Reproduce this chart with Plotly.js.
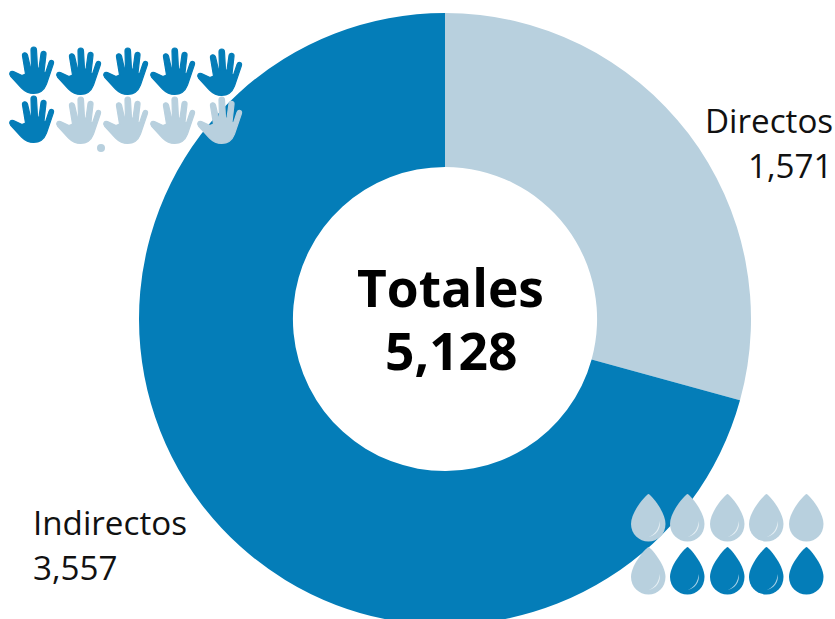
<!DOCTYPE html>
<html><head><meta charset="utf-8">
<script src="https://cdn.plot.ly/plotly-3.0.1.min.js"></script>
<style>html,body{margin:0;padding:0;overflow:hidden;background:#fff;width:835px;height:619px}</style>
</head><body><div id="c" style="width:835px;height:660px"></div>
<script>
const categories = ['Directos','Indirectos'];
// Figures printed on the reference.
const printedValues = ['1,571','3,557'];
const printedTotal = '5,128';
// Arc shares (boundary at about 105.4 deg). The
// reference's arc does not match its printed figures, which would give 110.3 deg.
const drawnShares = [29.28,70.72];
const colors = ['#b8d0de','#047db8'];
const DARK='#047db8', LIGHT='#b8d0de';
const W=835,H=660;
const cx=445,cy=319,R=306;
// icon outlines in local px, origin at top-left of the icon, y down
const handPts = "M13.5 9 C13 5.5 17.5 4.5 18.5 8 L21.5 21 L22.5 21 L22 3 C22 -1 27.5 -1 27.5 3 L28.5 21 L30 21 L32 6.5 C32.5 3 37.5 4 37 7.5 L35 25 L36.5 26 L40 15.5 C41.5 12 45.5 13.5 44.3 17 L37.5 37 C35 43.5 30 46.5 24.5 46.5 C20 46.5 16 44.5 12.5 41 L1.5 29 C-0.5 26.5 1.5 23.5 4.5 24.5 L13 28.5 L16.5 27 Z";
const dropPts = "M17.5 0 C19 0 34.5 17 34.5 30 C34.5 40 27 47.5 17.5 47.5 C8 47.5 0 40 0 30 C0 17 16 0 17.5 0 Z";
const glintPts = "M28.8 27 C30 35 25 41.5 17.5 43 C24.5 40.5 28 34.5 28.8 27 Z";
function flip(p){ // y-up conversion for pixel-anchored shapes
  let i=0; return p.replace(/-?\d+(\.\d+)?/g,m=>{const v=(i++%2)? -parseFloat(m):parseFloat(m);return String(v);});
}
function icon(path,x,y,color,lw){
  return {type:'path',xref:'paper',yref:'paper',xsizemode:'pixel',ysizemode:'pixel',
    xanchor:x/W,yanchor:1-y/H,path:flip(path),fillcolor:color,line:{width:lw||0,color:color},layer:'above'};
}
const shapes=[];
const handX=[9,56,103,150,197];
const handY1=[47,48,48,48,49];
const handY2=[96,97,97,97,97];
handX.forEach((x,i)=>shapes.push(icon(handPts,x,handY1[i],DARK,1.2)));
handX.forEach((x,i)=>shapes.push(icon(handPts,x,handY2[i],i===0?DARK:LIGHT,1.2)));
shapes.push({type:'circle',xref:'paper',yref:'paper',xsizemode:'pixel',ysizemode:'pixel',xanchor:101/W,yanchor:1-148/H,
  x0:-4,x1:4,y0:-4,y1:4,fillcolor:LIGHT,line:{width:0},layer:'above'});
const dropX=[631,670,710,749,789];
dropX.forEach((x,i)=>{shapes.push(icon(dropPts,x,494,LIGHT));
  if(i<4)shapes.push(icon(glintPts,x,494,'#e6eff4'));});
dropX.forEach((x,i)=>{const c=i===0?LIGHT:DARK;shapes.push(icon(dropPts,x,547,c));
  if(i<4)shapes.push(icon(glintPts,x,547,i===0?'#e6eff4':'#a9d0e6'));});
const ann=(text,x,y,size,anchor,bold)=>({text:bold?'<b>'+text+'</b>':text,xref:'paper',yref:'paper',x:x/W,y:1-y/H,
  xanchor:anchor,yanchor:'middle',showarrow:false,align:anchor,font:{family:'Open Sans',size:size,color:bold?'#000':'#111'}});
const layout={width:W,height:H,margin:{l:0,r:0,t:0,b:0},paper_bgcolor:'#fff',showlegend:false,shapes,
 annotations:[
  ann(categories[0],834.5,120,33.2,'right'),ann(printedValues[0],834.5,165,33.2,'right'),
  ann(categories[1],30.5,522,33.2,'left'),ann(printedValues[1],30.5,567,33.2,'left'),
  ann('Totales',451,287,51.5,'center',true),ann(printedTotal,451,350,51.5,'center',true)
 ]};
Plotly.newPlot('c',[{type:'pie',labels:categories,values:drawnShares,hole:0.497,sort:false,direction:'clockwise',rotation:0,
  marker:{colors:colors,line:{width:0}},textinfo:'none',hoverinfo:'label',
  domain:{x:[(cx-R)/W,(cx+R)/W],y:[1-(cy+R)/H,1-(cy-R)/H]}}],layout,{displayModeBar:false,staticPlot:true});
</script></body></html>
